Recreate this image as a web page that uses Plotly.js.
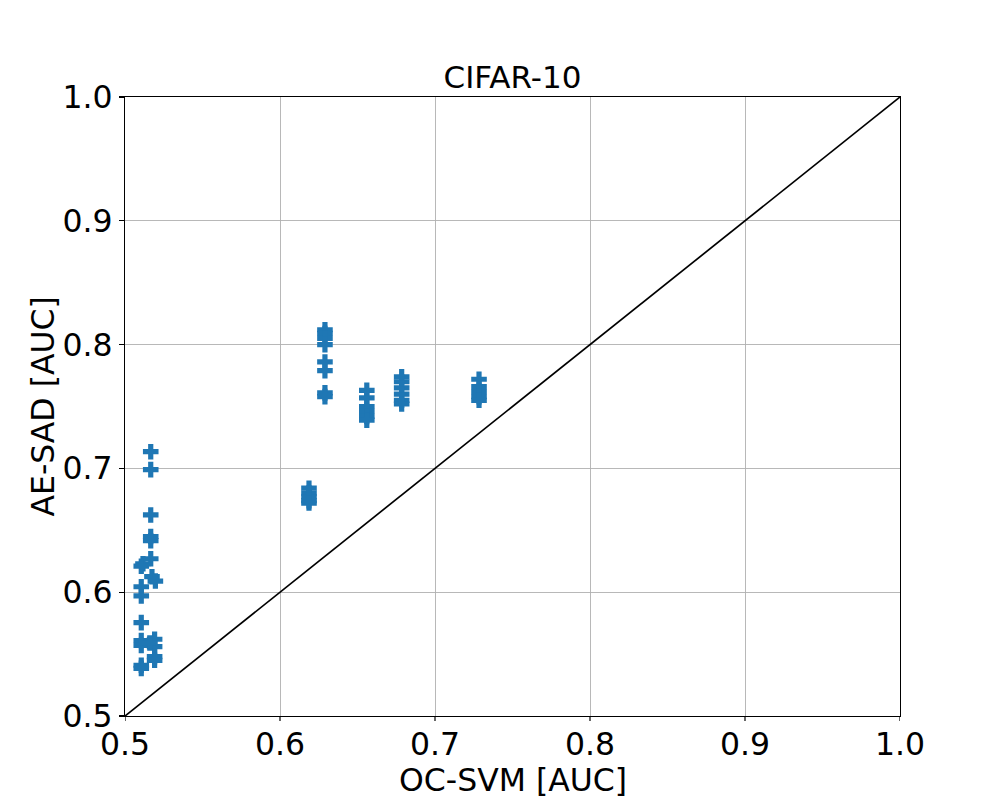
<!DOCTYPE html>
<html>
<head>
<meta charset="utf-8">
<script src="https://cdn.plot.ly/plotly-3.0.1.min.js"></script>
<style>html,body{margin:0;padding:0;background:#fff;}#chart{width:1000px;height:805px;}</style>
</head>
<body>
<div id="chart"></div>
<script>
// OC-SVM AUC (x) vs AE-SAD AUC (y)
const ocsvm = [
  0.5166, 0.5166, 0.5166, 0.5166, 0.5166, 0.5166, 0.5116, 0.5105, 0.5174, 0.5196, 0.5105,
  0.5105, 0.5105, 0.5105, 0.5105, 0.5191, 0.5191, 0.5160, 0.5191, 0.5191, 0.5105, 0.5105,
  0.6187, 0.6187, 0.6187, 0.6187, 0.6187,
  0.629, 0.629, 0.629, 0.629, 0.629, 0.629, 0.629, 0.629,
  0.656, 0.656, 0.656, 0.656, 0.656, 0.656,
  0.6785, 0.6785, 0.6785, 0.6785, 0.6785, 0.6785,
  0.7284, 0.7284, 0.7284, 0.7284, 0.7284
];
const aesad = [
  0.7135, 0.699, 0.6624, 0.645, 0.6416, 0.627, 0.623, 0.621, 0.6125, 0.609, 0.6044,
  0.597, 0.5754, 0.561, 0.557, 0.562, 0.556, 0.559, 0.548, 0.545, 0.541, 0.5385,
  0.684, 0.680, 0.677, 0.674, 0.672,
  0.812, 0.809, 0.805, 0.800, 0.786, 0.779, 0.761, 0.758,
  0.763, 0.757, 0.750, 0.746, 0.742, 0.739,
  0.774, 0.770, 0.765, 0.760, 0.755, 0.752,
  0.772, 0.766, 0.762, 0.758, 0.755
];
const diagX = [0.5, 1.0];
const diagY = [0.5, 1.0];
const tickVals = [0.5, 0.6, 0.7, 0.8, 0.9, 1.0];
const tickText = ["0.5", "0.6", "0.7", "0.8", "0.9", "1.0"];
const xTitle = "OC-SVM [AUC]";
const yTitle = "AE-SAD [AUC]";
const chartTitle = "CIFAR-10";

const font = "DejaVu Sans, Verdana, sans-serif";

const traces = [
  {
    x: ocsvm, y: aesad, type: "scatter", mode: "markers",
    marker: {symbol: "cross", size: 13, color: "#1f77b4", line: {width: 0}},
    hoverinfo: "x+y", showlegend: false
  },
  {
    x: diagX, y: diagY, type: "scatter", mode: "lines",
    line: {color: "#000000", width: 1.7}, showlegend: false, hoverinfo: "skip"
  }
];

const axisCommon = {
  range: [0.5, 1.0],
  tickvals: tickVals, ticktext: tickText,
  showgrid: true, gridcolor: "#b0b0b0", gridwidth: 0.9,
  zeroline: false,
  showline: true, linecolor: "#000000", linewidth: 1.2, mirror: true,
  ticks: "outside", ticklen: 5, tickwidth: 1.2, tickcolor: "#000000",
  tickfont: {family: font, size: 31.5, color: "#000000"}
};

// short outside tick marks on the x axis, placed at the tick values through the x scale
const xTickShapes = tickVals.map(v => ({
  type: "line", xref: "x", yref: "paper", x0: v, x1: v, y0: 0, y1: -0.008,
  line: {color: "#000000", width: 1.2}
}));

const layout = {
  width: 1000, height: 805,
  paper_bgcolor: "#ffffff", plot_bgcolor: "#ffffff",
  margin: {l: 125, r: 100, t: 97, b: 89},
  title: {
    text: chartTitle, font: {family: font, size: 31, color: "#000000"},
    x: 0.5, xref: "paper", xanchor: "center",
    y: 1, yref: "paper", yanchor: "bottom", pad: {b: 9}
  },
  xaxis: Object.assign({}, axisCommon, {ticks: "", ticklen: 0}),
  yaxis: Object.assign({}, axisCommon, {}),
  shapes: xTickShapes,
  annotations: [
    {
      text: xTitle, xref: "paper", yref: "paper", x: 0.5, y: -0.104,
      xanchor: "center", yanchor: "middle", showarrow: false,
      font: {family: font, size: 31.5, color: "#000000"}
    },
    {
      text: yTitle, xref: "paper", yref: "paper", x: -0.107, y: 0.5,
      xanchor: "center", yanchor: "middle", showarrow: false, textangle: -90,
      font: {family: font, size: 31.5, color: "#000000"}
    }
  ]
};

Plotly.newPlot("chart", traces, layout, {displayModeBar: false, staticPlot: true});
</script>
</body>
</html>
